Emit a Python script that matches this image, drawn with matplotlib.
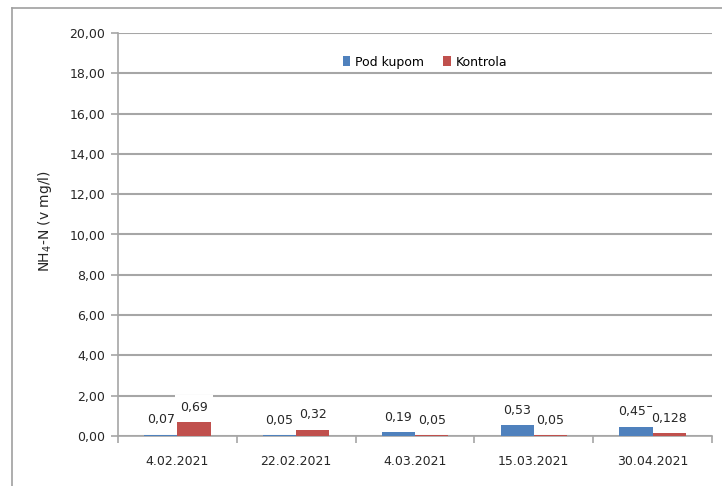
import numpy as np
import matplotlib
matplotlib.use("Agg")
from matplotlib import pyplot as plt
from matplotlib.lines import Line2D

# data
dates = ["4.02.2021", "22.02.2021", "4.03.2021", "15.03.2021", "30.04.2021"]
pod_kupom = [0.07, 0.05, 0.19, 0.53, 0.455]
kontrola = [0.69, 0.32, 0.05, 0.05, 0.128]
y_ticks = [0, 2, 4, 6, 8, 10, 12, 14, 16, 18, 20]

BLUE = "#4F81BD"
RED = "#C0504D"
GRID = "#A6A6A6"
TXT = "#262626"

plt.rcParams["font.family"] = ["DejaVu Sans"]

fig = plt.figure(figsize=(7.22, 4.86), dpi=100)
ax = fig.add_axes([118 / 722, 1 - 436 / 486, 594 / 722, 403 / 486])

x = np.arange(len(dates))
w = 0.28
# bars sit above the label boxes so the boxes only cut the grid lines
ax.bar(x - w / 2, pod_kupom, w, color=BLUE, label="Pod kupom", zorder=7)
ax.bar(x + w / 2, kontrola, w, color=RED, label="Kontrola", zorder=7)

def fmt(v):
    return str(v).replace(".", ",")

for i in range(len(dates)):
    for xs, v, z in [(x[i] - w / 2, pod_kupom[i], 5), (x[i] + w / 2, kontrola[i], 6)]:
        ax.annotate(fmt(v), (xs, v), xytext=(0, 6), textcoords="offset points",
                    ha="center", va="bottom", fontsize=9, color=TXT, zorder=z,
                    bbox=dict(facecolor="white", edgecolor="none", pad=4))

ax.set_xlim(-0.5, len(dates) - 0.5)
ax.set_ylim(0, 20)
ax.set_yticks(y_ticks)
ax.set_yticklabels([f"{t:.2f}".replace(".", ",") for t in y_ticks])
ax.set_xticks(x)
ax.set_xticklabels(dates)
ax.set_xticks(np.arange(-0.5, len(dates)), minor=True)
ax.tick_params(axis="x", which="major", length=0, pad=14, labelsize=9, labelcolor=TXT)
ax.tick_params(axis="x", which="minor", length=5, color=GRID, width=1.2)
ax.tick_params(axis="y", length=5, color=GRID, width=1.2, labelsize=9, labelcolor=TXT, pad=4)

ax.yaxis.grid(True, color=GRID, linewidth=1.5, zorder=0)
ax.set_axisbelow(True)
for s in ["top", "right"]:
    ax.spines[s].set_visible(False)
for s in ["left", "bottom"]:
    ax.spines[s].set_color(GRID)
    ax.spines[s].set_linewidth(1.2)
    ax.spines[s].set_zorder(6.5)

fig.text(45 / 722, 1 - 221 / 486, "NH$_4$-N (v mg/l)", rotation=90, fontsize=10,
         color=TXT, ha="center", va="center")

ax.legend(loc="center", bbox_to_anchor=(0.517, 0.928), ncol=2, frameon=False,
          fontsize=9, handlelength=0.6, handleheight=0.8, handletextpad=0.4,
          columnspacing=1.5)

# outer chart border (top and left visible)
fig.add_artist(Line2D([12 / 722, 12 / 722], [0, 1 - 8 / 486], color="#A0A0A0", lw=1.2))
fig.add_artist(Line2D([12 / 722, 1], [1 - 8 / 486, 1 - 8 / 486], color="#A0A0A0", lw=1.2))

fig.savefig("out.png", dpi=100)
